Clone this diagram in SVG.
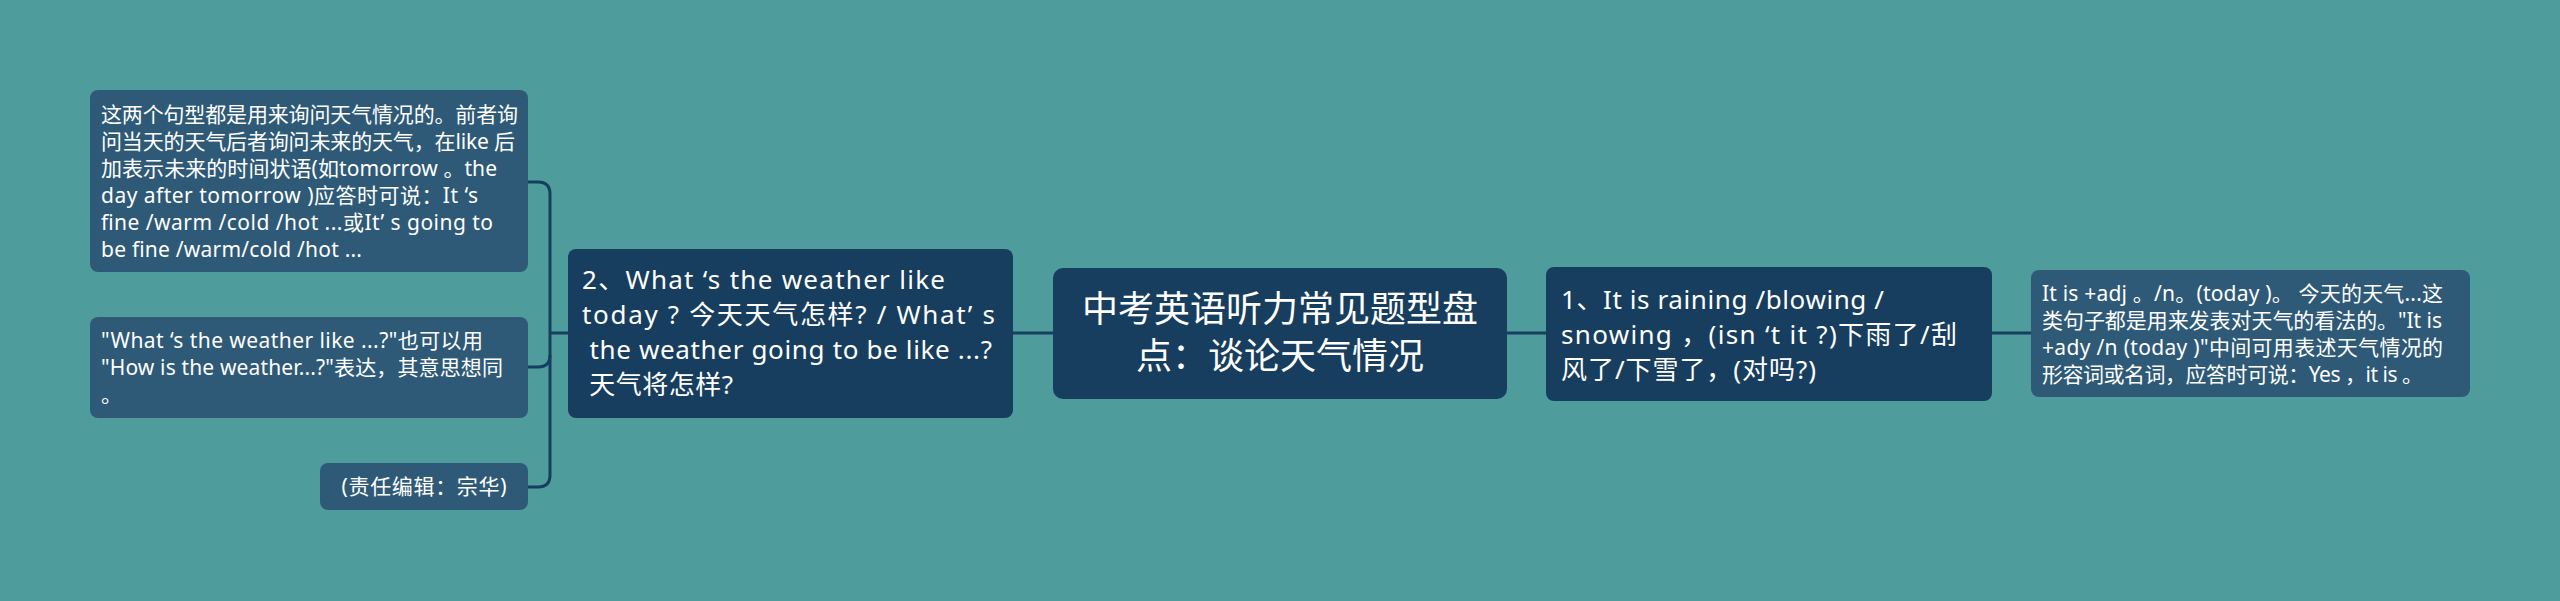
<svg xmlns="http://www.w3.org/2000/svg" width="2560" height="601" viewBox="0 0 2560 601">
<style>
.bg{fill:#4e9c9c}
.main{fill:#173e5e}
.leaf{fill:#2e5a78}
.t{font-family:"Noto Sans","Noto Sans CJK SC",sans-serif;fill:#ffffff}
.s{font-size:21px}
.m{font-size:26px}
.r{font-size:36px}
.c{fill:none;stroke:#173e5e;stroke-width:3}
</style>
<rect class="bg" x="0" y="0" width="2560" height="601"/>
<g id="connectors">
<path class="c" d="M1013 333 H1053"/>
<path class="c" d="M1507 333 H1546"/>
<path class="c" d="M1992 333 H2031"/>
<path class="c" d="M568 333 H550"/>
<path class="c" d="M528 182 H538 Q550 182 550 194 V475 Q550 487 538 487 H528"/>
<path class="c" d="M528 367 H538 Q550 367 550 355"/>
</g>
<g id="root">
<rect class="main" x="1053" y="268" width="454" height="131" rx="10"/>
<text class="t r" text-anchor="middle"><tspan x="1280" y="322">中考英语听力常见题型盘</tspan><tspan x="1280" y="369">点：谈论天气情况</tspan></text>
</g>
<g id="node-2">
<rect class="main" x="568" y="249" width="445" height="169" rx="8"/>
<text class="t m" xml:space="preserve"><tspan x="582" y="289" textLength="363" lengthAdjust="spacing">2、What ‘s the weather like</tspan><tspan x="582" y="324" textLength="413" lengthAdjust="spacing">today ? 今天天气怎样? / What’ s</tspan><tspan x="582" y="359" textLength="410" lengthAdjust="spacing"> the weather going to be like ...?</tspan><tspan x="582" y="394" textLength="151" lengthAdjust="spacing"> 天气将怎样?</tspan></text>
</g>
<g id="node-1">
<rect class="main" x="1546" y="267" width="446" height="134" rx="8"/>
<text class="t m"><tspan x="1561" y="309" textLength="323" lengthAdjust="spacing">1、It is raining /blowing /</tspan><tspan x="1561" y="344" textLength="396" lengthAdjust="spacing">snowing ，(isn ‘t it ?)下雨了/刮</tspan><tspan x="1561" y="379" textLength="255" lengthAdjust="spacing">风了/下雪了，(对吗?)</tspan></text>
</g>
<g id="leaf-a">
<rect class="leaf" x="90" y="90" width="438" height="182" rx="8"/>
<text class="t s"><tspan x="101" y="122" textLength="417" lengthAdjust="spacing">这两个句型都是用来询问天气情况的。前者询</tspan><tspan x="101" y="149" textLength="414" lengthAdjust="spacing">问当天的天气后者询问未来的天气，在like 后</tspan><tspan x="101" y="176" textLength="396" lengthAdjust="spacing">加表示未来的时间状语(如tomorrow 。the</tspan><tspan x="101" y="203" textLength="377" lengthAdjust="spacing">day after tomorrow )应答时可说：It ‘s</tspan><tspan x="101" y="230" textLength="392" lengthAdjust="spacing">fine /warm /cold /hot ...或It’ s going to</tspan><tspan x="101" y="257" textLength="261" lengthAdjust="spacing">be fine /warm/cold /hot ...</tspan></text>
</g>
<g id="leaf-b">
<rect class="leaf" x="90" y="317" width="438" height="101" rx="8"/>
<text class="t s"><tspan x="101" y="348" textLength="382" lengthAdjust="spacing">"What ‘s the weather like ...?"也可以用</tspan><tspan x="101" y="375" textLength="402" lengthAdjust="spacing">"How is the weather...?"表达，其意思想同</tspan><tspan x="101" y="402">。</tspan></text>
</g>
<g id="leaf-c">
<rect class="leaf" x="320" y="463" width="208" height="47" rx="8"/>
<text class="t s" x="424" y="494" text-anchor="middle" textLength="165" lengthAdjust="spacing">(责任编辑：宗华)</text>
</g>
<g id="leaf-d">
<rect class="leaf" x="2031" y="270" width="439" height="127" rx="8"/>
<text class="t s"><tspan x="2042" y="301" textLength="401" lengthAdjust="spacing">It is +adj 。/n。(today )。 今天的天气...这</tspan><tspan x="2042" y="328" textLength="400" lengthAdjust="spacing">类句子都是用来发表对天气的看法的。"It is</tspan><tspan x="2042" y="355" textLength="401" lengthAdjust="spacing">+ady /n (today )"中间可用表述天气情况的</tspan><tspan x="2042" y="382" textLength="381" lengthAdjust="spacing">形容词或名词，应答时可说：Yes ，it is 。</tspan></text>
</g>
</svg>
